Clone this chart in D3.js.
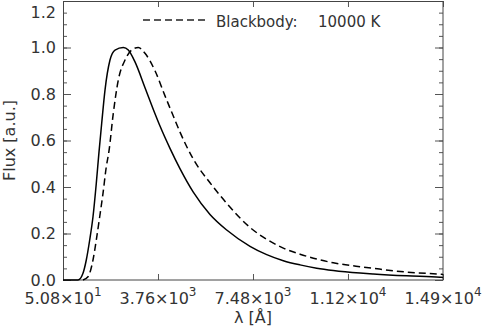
<!DOCTYPE html>
<html>
<head>
<meta charset="utf-8">
<script src="https://cdn.jsdelivr.net/npm/d3@7"></script>
<style>
  body { margin: 0; background: #fff; }
  svg { display: block; }
  text { font-family: "DejaVu Sans", sans-serif; fill: #333; }
</style>
</head>
<body>
<svg id="viz" width="484" height="333"></svg>
<script>
(function () {
  "use strict";

  // values (wavelength in Angstrom, normalised flux)
  const solidLambda = [50.8, 637, 832, 961, 1094, 1223, 1352, 1458, 1563, 1692, 1887, 2083, 2407, 2602, 2864, 3255, 3646, 3841, 4236, 4626, 5142, 5795, 6448, 7359, 8011, 8660, 9312, 9964, 10613, 11657, 12177, 13481, 14782, 14900];
  const solidFlux   = [0, 0, 0.029, 0.086, 0.172, 0.272, 0.416, 0.551, 0.674, 0.817, 0.946, 0.989, 1.0, 0.989, 0.938, 0.827, 0.715, 0.662, 0.565, 0.478, 0.378, 0.282, 0.215, 0.145, 0.109, 0.083, 0.065, 0.051, 0.041, 0.030, 0.026, 0.018, 0.012, 0.011];

  const bbLambda = [832, 1028, 1223, 1352, 1485, 1614, 1743, 1848, 2016, 2212, 2474, 2735, 2993, 3255, 3646, 4037, 4361, 4623, 5142, 5795, 6448, 7359, 8011, 8660, 9312, 9964, 10613, 11657, 12177, 13481, 14782, 14900];
  const bbFlux   = [0, 0.014, 0.086, 0.172, 0.272, 0.373, 0.487, 0.555, 0.717, 0.860, 0.946, 0.989, 1.0, 0.975, 0.900, 0.792, 0.705, 0.636, 0.520, 0.418, 0.330, 0.226, 0.175, 0.137, 0.111, 0.090, 0.074, 0.057, 0.050, 0.034, 0.025, 0.024];

  // tick labels
  const xTicks = [50.8, 3763, 7475, 11187, 14900];
  const xTickMant = ["5.08", "3.76", "7.48", "1.12", "1.49"];
  const xTickExp = ["1", "3", "3", "4", "4"];
  const yTicks = [0, 0.2, 0.4, 0.6, 0.8, 1.0, 1.2];
  const yMinor = d3.range(0, 1.2001, 0.05);

  // legend: label and temperature are spaced apart in the original
  const legendParts = ["Blackbody:", "10000 K"];

  /*
  | Layout
  */
  let margin = { top: 1, left: 63, right: 41, bottom: 53 };
  let width = 484 - margin.left - margin.right;   // 380
  let height = 333 - margin.top - margin.bottom;  // 279

  let x = d3.scaleLinear().domain([50.8, 14900]).range([0, width]);
  let y = d3.scaleLinear().domain([0, 1.2]).range([height, 0]);

  let svg = d3.select("#viz");
  let g = svg.append("g").attr("transform", `translate(${margin.left} ${margin.top})`);

  /*
  | Axes (IDL style: ticks inside on all four sides)
  */
  let tickColor = "#555";

  g.append("g").attr("class", "xbottom")
    .attr("transform", `translate(0,${height})`)
    .call(d3.axisBottom(x).tickValues(xTicks).tickSize(-6).tickFormat(""));
  g.append("g").attr("class", "xtop")
    .call(d3.axisTop(x).tickValues(xTicks).tickSize(-6).tickFormat(""));

  g.append("g").attr("class", "yminor")
    .call(d3.axisLeft(y).tickValues(yMinor).tickSize(-4).tickFormat(""));
  g.append("g").attr("class", "yminor")
    .attr("transform", `translate(${width},0)`)
    .call(d3.axisRight(y).tickValues(yMinor).tickSize(-4).tickFormat(""));
  g.append("g").attr("class", "yleft")
    .call(d3.axisLeft(y).tickValues(yTicks).tickSize(-8).tickFormat(""));
  g.append("g").attr("class", "yright")
    .attr("transform", `translate(${width},0)`)
    .call(d3.axisRight(y).tickValues(yTicks).tickSize(-8).tickFormat(""));

  g.selectAll(".domain").remove();
  g.selectAll(".tick line").attr("stroke", tickColor).attr("stroke-width", 1);

  // frame
  g.append("rect")
    .attr("x", 0.5).attr("y", 0.5)
    .attr("width", width - 0.5).attr("height", height - 0.5)
    .attr("fill", "none").attr("stroke", "#444").attr("stroke-width", 1);

  // y tick labels
  g.selectAll(".ylab")
    .data(yTicks)
    .enter()
    .append("text")
    .attr("class", "ylab")
    .attr("x", -7)
    .attr("y", d => Math.max(y(d), 11))
    .attr("dy", "0.36em")
    .attr("text-anchor", "end")
    .style("font-size", "16px")
    .text(d => d.toFixed(1));

  // x tick labels, mantissa x 10 ^ exponent
  let xl = g.selectAll(".xlab")
    .data(xTicks)
    .enter()
    .append("text")
    .attr("class", "xlab")
    .attr("x", d => x(d))
    .attr("y", height + 24)
    .attr("text-anchor", "middle")
    .style("font-size", "16px");
  xl.append("tspan").text((d, i) => xTickMant[i] + "\u00d710");
  xl.append("tspan")
    .attr("dy", -8)
    .style("font-size", "12px")
    .text((d, i) => xTickExp[i]);

  // axis titles
  g.append("text")
    .attr("x", width / 2)
    .attr("y", height + 43)
    .attr("text-anchor", "middle")
    .style("font-size", "16px")
    .text("\u03bb [\u00c5]");

  g.append("text")
    .attr("transform", `translate(${-48},${height / 2}) rotate(-90)`)
    .attr("text-anchor", "middle")
    .style("font-size", "16px")
    .text("Flux [a.u.]");

  /*
  | Curves
  */
  let line = d3.line()
    .x(d => x(d[0]))
    .y(d => y(d[1]))
    .curve(d3.curveMonotoneX);

  g.append("path")
    .datum(d3.zip(solidLambda, solidFlux))
    .attr("d", line)
    .attr("fill", "none")
    .attr("stroke", "#000")
    .attr("stroke-width", 1.5);

  g.append("path")
    .datum(d3.zip(bbLambda, bbFlux))
    .attr("d", line)
    .attr("fill", "none")
    .attr("stroke", "#000")
    .attr("stroke-width", 1.5)
    .attr("stroke-dasharray", "7,4");

  /*
  | Legend
  */
  let legend = g.append("g").attr("transform", "translate(80,19)");
  legend.append("line")
    .attr("x1", 0).attr("x2", 62)
    .attr("stroke", "#222")
    .attr("stroke-width", 1.3)
    .attr("stroke-dasharray", "7,4");
  let lt = legend.append("text")
    .attr("y", 7)
    .style("font-size", "15px");
  lt.append("tspan").attr("x", 73).text(legendParts[0]);
  lt.append("tspan").attr("x", 175).text(legendParts[1]);

})();
</script>
</body>
</html>
